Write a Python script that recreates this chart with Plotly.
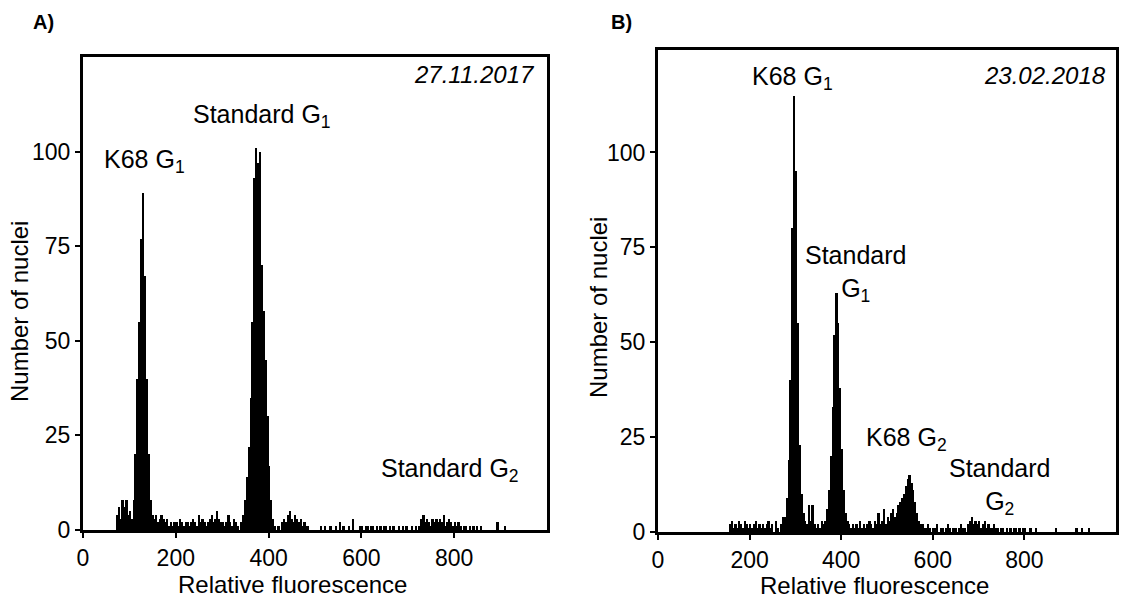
import plotly.graph_objects as go

# ---- data: histogram counts, channel width 4 (relative fluorescence 0..1000) ----
BIN_WIDTH = 4

counts_A = (
    [0] * 18 +                                   # 0-72
    [4, 6, 3, 8, 6, 8, 4, 5, 3] +                # 72-108 debris
    [8, 20, 40, 55, 77, 89, 67, 40, 20, 8] +     # 108-148 K68 G1
    [4, 3, 4, 2, 3, 4, 3, 2, 3, 1] +             # 148-188
    [2, 1, 2, 2, 1, 3, 2, 1, 2, 2] +             # 188-228
    [1, 2, 3, 2, 1, 4, 2, 3, 2, 1] +             # 228-268
    [2, 3, 4, 2, 3, 5, 3, 2, 2, 1] +             # 268-308
    [2, 4, 2, 1, 3, 2, 1, 0, 2] +                # 308-344
    [4, 8, 14, 22, 35, 55, 93, 101, 97, 100, 70, 58, 45, 30, 17, 8, 3] +  # 344-412 Standard G1
    [1, 0, 1, 0] +                               # 412-428
    [2, 3, 2, 4, 5, 3, 2, 4, 3, 2, 3, 1, 2, 1, 1, 0] +  # 428-492
    [0, 0, 0, 0, 0, 1, 0, 1, 0, 0] +             # 492-532
    [1, 0, 0, 1, 0, 2, 0, 1, 0, 0] +             # 532-572
    [1, 0, 3, 0, 0, 0, 1, 1, 0, 1] +             # 572-612
    [1, 0, 1, 1, 0, 1, 0, 1, 0, 1] +             # 612-652
    [1, 0, 1, 0, 1, 0, 0, 1, 0, 1] +             # 652-692
    [0, 1, 0, 0, 1, 0, 1, 0, 1] +                # 692-728
    [3, 4, 2, 3, 2, 1, 3, 2, 3, 2] +             # 728-768 Standard G2
    [3, 2, 4, 1, 2, 3, 2, 1, 2, 1] +             # 768-808
    [2, 1, 0, 1, 1, 0, 1, 0, 1, 0] +             # 808-848
    [1, 0, 1, 0, 0, 0, 0, 0, 0, 0] +             # 848-888
    [0, 2, 0, 0, 0, 1, 0, 0, 0, 0] +             # 888-928
    [0] * 18                                     # 928-1000
)

counts_B = (
    [0] * 39 +                                   # 0-156
    [2, 3, 1, 2, 1, 3, 2, 1, 3, 2] +             # 156-196
    [1, 2, 1, 2, 3, 1, 2, 1, 2, 1] +             # 196-236
    [2, 3, 1, 2, 0, 3, 1, 0, 2, 4] +             # 236-276
    [4, 9, 19, 40, 80, 115, 95, 55, 23, 10, 5, 3] +  # 276-324 K68 G1
    [2, 7, 3, 7, 2, 1, 2, 1, 3] +                # 324-360
    [2, 3, 6, 11, 20, 33, 52, 63, 55, 38, 22, 11, 5, 3] +  # 360-416 Standard G1
    [2, 1, 2, 1, 2, 1, 3, 1, 2, 1, 2, 3, 2, 1, 3, 2] +     # 416-480
    [5, 2, 3, 6, 2, 4, 3, 5, 6, 4] +             # 480-520
    [5, 7, 8, 9, 10, 12, 14, 15, 13, 11, 8, 5, 3, 2, 2, 1] +  # 520-584 K68 G2
    [1, 2, 1, 0, 1, 1, 2, 0, 1, 1, 0, 1, 2, 1, 0, 1, 1, 0, 1, 2, 1, 1, 0, 2] +  # 584-680
    [3, 4, 2, 3, 2, 3, 1, 2, 3, 1, 2, 1, 1, 2, 1] +  # 680-740 Standard G2
    [1, 0, 1, 1, 0, 1, 0, 1, 0, 1] +             # 740-780
    [1, 0, 1, 0, 1, 1, 0, 0, 1, 0] +             # 780-820
    [0, 1, 0, 0, 0, 0, 0, 0, 0, 0] +             # 820-860
    [0, 0, 1, 0, 0, 0, 0, 0, 0, 0] +             # 860-900
    [0, 0, 0, 1, 0, 0, 1, 0, 0, 0] +             # 900-940
    [1, 0, 0, 0, 0, 0, 0, 0, 0, 0] +             # 940-980
    [0, 0, 0, 0, 0]                              # 980-1000
)

x_ticks = [0, 200, 400, 600, 800]
y_ticks = [0, 25, 50, 75, 100]
x_range = [0, 1000]
y_range_A = [0, 125]
y_range_B = [0, 127]

panel_letters = ["A)", "B)"]
dates = ["27.11.2017", "23.02.2018"]
x_title = "Relative fluorescence"
y_title = "Number of nuclei"

# ---- figure ----
W, H = 1132, 598
FONT = "Liberation Sans, Arial, Helvetica, sans-serif"
TICK_FONT = "Liberation Sans Narrow, Arial Narrow, Liberation Sans, Arial, sans-serif"

def px_x(p):
    return p / W

def px_y(p):
    return 1 - p / H

fig = go.Figure()
fig.add_trace(go.Bar(y=counts_A, x0=BIN_WIDTH / 2, dx=BIN_WIDTH, width=BIN_WIDTH,
                     marker=dict(color="black", line=dict(width=0)),
                     xaxis="x", yaxis="y", showlegend=False))
fig.add_trace(go.Bar(y=counts_B, x0=BIN_WIDTH / 2, dx=BIN_WIDTH, width=BIN_WIDTH,
                     marker=dict(color="black", line=dict(width=0)),
                     xaxis="x2", yaxis="y2", showlegend=False))

axis_common = dict(showline=True, linecolor="black", linewidth=3, mirror=True,
                   ticks="outside", ticklen=5, tickwidth=2, tickcolor="black",
                   showgrid=False, zeroline=False, automargin=False,
                   tickfont=dict(family=TICK_FONT, size=23, color="black"))

fig.update_layout(
    template="none",
    width=W, height=H,
    margin=dict(l=0, r=0, t=0, b=0, pad=0),
    paper_bgcolor="white", plot_bgcolor="white",
    bargap=0,
    showlegend=False,
    font=dict(family=FONT, size=24, color="black"),
    xaxis=dict(domain=[px_x(83), px_x(547)], range=x_range, tickvals=x_ticks,
               anchor="y", **axis_common),
    yaxis=dict(domain=[px_y(530), px_y(57)], range=y_range_A, tickvals=y_ticks,
               anchor="x", **axis_common),
    xaxis2=dict(domain=[px_x(658), px_x(1116)], range=x_range, tickvals=x_ticks,
                anchor="y2", **axis_common),
    yaxis2=dict(domain=[px_y(532), px_y(50)], range=y_range_B, tickvals=y_ticks,
                anchor="x2", **axis_common),
)

lab_font = dict(family=FONT, size=25, color="black")
title_font = dict(family=FONT, size=24, color="black")

def ann(text, px, py, font=lab_font, xanchor="center", yanchor="middle", angle=0):
    return dict(text=text, xref="paper", yref="paper", x=px_x(px), y=px_y(py),
                xanchor=xanchor, yanchor=yanchor, textangle=angle,
                showarrow=False, font=font)

annotations = [
    # panel letters
    ann("<b>" + panel_letters[0] + "</b>", 43, 22, font=dict(family=FONT, size=20, color="black")),
    ann("<b>" + panel_letters[1] + "</b>", 621, 22, font=dict(family=FONT, size=20, color="black")),
    # dates
    ann("<i>" + dates[0] + "</i>", 537, 74, font=dict(family=FONT, size=24, color="black"), xanchor="right"),
    ann("<i>" + dates[1] + "</i>", 1108, 75, font=dict(family=FONT, size=24, color="black"), xanchor="right"),
    # axis titles
    ann(x_title, 292, 584, font=title_font),
    ann(x_title, 874, 585, font=title_font),
    ann(y_title, 19, 312, font=title_font, angle=-90),
    ann(y_title, 598, 308, font=title_font, angle=-90),
    # panel A labels
    ann("K68 G<sub>1</sub>", 144, 161),
    ann("Standard G<sub>1</sub>", 262, 116),
    ann("Standard G<sub>2</sub>", 450, 470),
    # panel B labels
    ann("K68 G<sub>1</sub>", 792, 78),
    ann("Standard<br>G<sub>1</sub>", 855, 274),
    ann("K68 G<sub>2</sub>", 906, 439),
    ann("Standard<br>G<sub>2</sub>", 1000, 486),
]
fig.update_layout(annotations=annotations)

fig.write_html("out.html")
